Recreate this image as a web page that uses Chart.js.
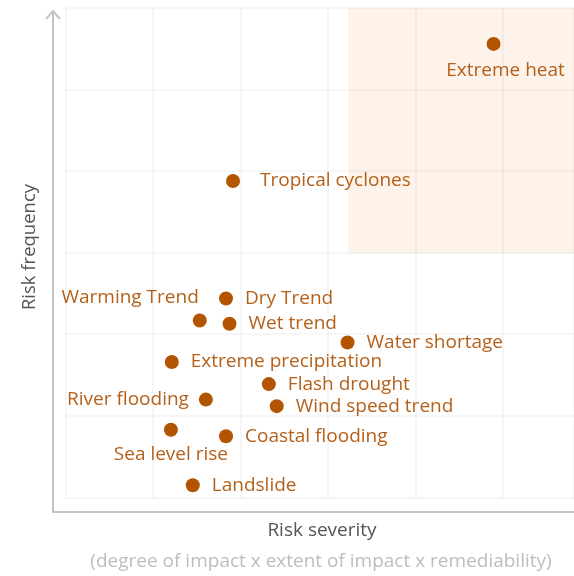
<!DOCTYPE html>
<html>
<head>
<meta charset="utf-8">
<script src="https://cdn.jsdelivr.net/npm/chart.js@4.4.1/dist/chart.umd.min.js"></script>
<style>
  html, body { margin: 0; padding: 0; background: #ffffff; }
  #wrap { width: 574px; height: 576px; }
</style>
</head>
<body>
<div id="wrap"><canvas id="c" width="574" height="576"></canvas></div>
<script>
// ---- data ----
const risks = ["Extreme heat", "Tropical cyclones", "Dry Trend", "Warming Trend", "Wet trend",
  "Water shortage", "Extreme precipitation", "Flash drought", "River flooding",
  "Wind speed trend", "Sea level rise", "Coastal flooding", "Landslide"];
const severity = [4.89, 1.91, 1.83, 1.53, 1.87, 3.22, 1.21, 2.32, 1.60, 2.41, 1.20, 1.83, 1.45];
const frequency = [5.56, 3.88, 2.44, 2.17, 2.13, 1.90, 1.66, 1.39, 1.20, 1.12, 0.83, 0.75, 0.15];
const xTitle = "Risk severity";
const xSubtitle = "(degree of impact x extent of impact x remediability)";
const yTitle = "Risk frequency";
const highRiskZone = { xFrom: 3.23, yFrom: 3 };

// ---- styling / placement (not data) ----
const labelSide = {
  "Extreme heat": "below", "Sea level rise": "below",
  "River flooding": "left", "Warming Trend": "aboveLeft"
};
const FONT = "'Open Sans', sans-serif";
const POINT_COLOR = "#b35400";
const LABEL_COLOR = "#b5601a";

const points = severity.map((x, i) => ({ x: x, y: frequency[i] }));

const zonePlugin = {
  id: "zone",
  beforeDraw(chart) {
    const { ctx, scales: { x, y }, chartArea } = chart;
    ctx.save();
    ctx.fillStyle = "#fdf3ea";
    const x0 = x.getPixelForValue(highRiskZone.xFrom);
    const y0 = y.getPixelForValue(y.max);
    const y1 = y.getPixelForValue(highRiskZone.yFrom);
    ctx.fillRect(x0, y0, chart.width - x0, y1 - y0);
    ctx.restore();
  }
};

const decorPlugin = {
  id: "decor",
  afterDraw(chart) {
    const { ctx } = chart;
    ctx.save();
    // axis lines
    ctx.strokeStyle = "#c4c4c4";
    ctx.lineWidth = 2;
    ctx.beginPath();
    ctx.moveTo(53, 11);
    ctx.lineTo(53, 512);
    ctx.lineTo(574, 512);
    ctx.stroke();
    ctx.beginPath();
    ctx.moveTo(46, 19);
    ctx.lineTo(53, 11);
    ctx.lineTo(60, 19);
    ctx.stroke();
    // titles
    ctx.textAlign = "center";
    ctx.textBaseline = "middle";
    ctx.fillStyle = "#555555";
    ctx.font = "19px " + FONT;
    ctx.fillText(xTitle, 322, 531);
    ctx.fillStyle = "#bdbdbd";
    ctx.fillText(xSubtitle, 321, 562);
    ctx.save();
    ctx.translate(30, 247);
    ctx.rotate(-Math.PI / 2);
    ctx.fillStyle = "#555555";
    ctx.font = "18.5px " + FONT;
    ctx.fillText(yTitle, 0, 0);
    ctx.restore();
    // point labels
    const meta = chart.getDatasetMeta(0);
    ctx.fillStyle = LABEL_COLOR;
    ctx.font = "19px " + FONT;
    meta.data.forEach((el, i) => {
      const name = risks[i];
      const side = labelSide[name] || "right";
      let tx = el.x, ty = el.y;
      if (side === "right") { ctx.textAlign = "left"; tx += 19; }
      else if (side === "left") { ctx.textAlign = "right"; tx -= 17; }
      else if (side === "below") { ctx.textAlign = "center"; ty += 25; if (name === "Extreme heat") { tx += 12; ty += 2; } }
      else if (side === "aboveLeft") { ctx.textAlign = "right"; tx -= 1; ty -= 23; }
      if (name === "Tropical cyclones") tx += 8;
      ctx.textBaseline = "middle";
      ctx.fillText(name, tx, ty);
    });
    ctx.restore();
  }
};

new Chart(document.getElementById("c"), {
  type: "scatter",
  data: {
    datasets: [{
      data: points,
      backgroundColor: POINT_COLOR,
      borderColor: POINT_COLOR,
      pointRadius: 7,
      pointHoverRadius: 7,
      borderWidth: 0
    }]
  },
  options: {
    responsive: false,
    animation: false,
    events: [],
    layout: { autoPadding: false, padding: { left: 66, top: 8, right: 0, bottom: 78.5 } },
    plugins: { legend: { display: false }, tooltip: { enabled: false } },
    scales: {
      x: {
        min: 0, max: 5.81,
        ticks: { display: false, stepSize: 1 },
        grid: { color: "rgba(0,0,0,0.035)", lineWidth: 2, drawTicks: false },
        border: { display: false }
      },
      y: {
        min: 0, max: 6,
        ticks: { display: false, stepSize: 1 },
        grid: { color: "rgba(0,0,0,0.035)", lineWidth: 2, drawTicks: false },
        border: { display: false }
      }
    }
  },
  plugins: [zonePlugin, decorPlugin]
});
</script>
</body>
</html>
